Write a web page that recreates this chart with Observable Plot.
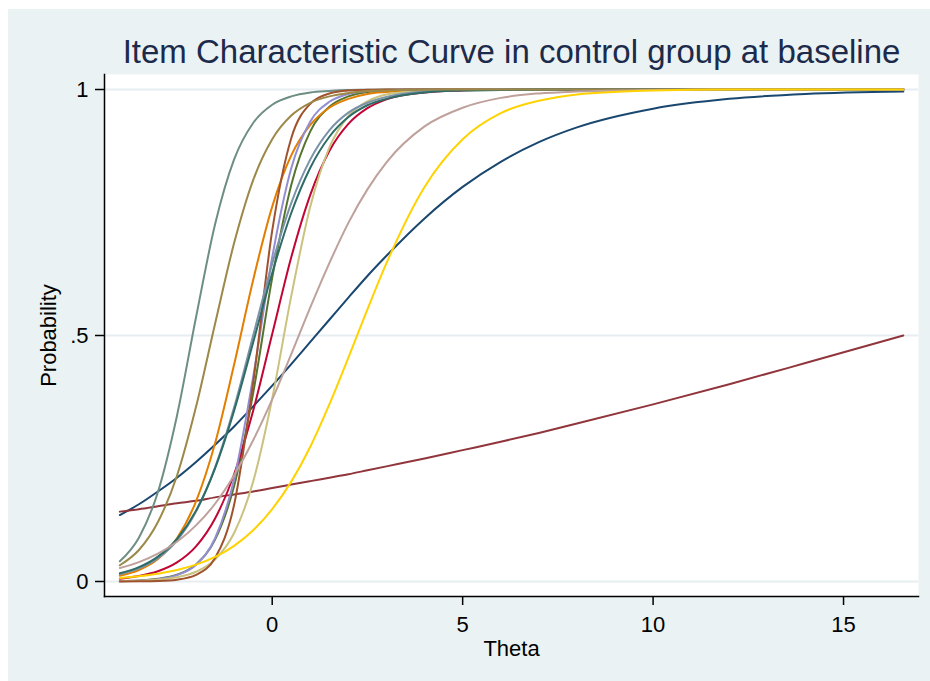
<!DOCTYPE html>
<html><head><meta charset="utf-8">
<script src="https://cdn.jsdelivr.net/npm/d3@7"></script>
<script src="https://cdn.jsdelivr.net/npm/@observablehq/plot@0.6"></script>
<style>
html,body{margin:0;padding:0;background:#fff;}
#wrap{position:relative;width:930px;height:681px;overflow:hidden;background:#fff;}
#bg{position:absolute;left:8px;top:9px;width:922px;height:672px;background:#eaf2f3;}
#chart{position:absolute;left:0;top:0;}
</style></head><body>
<div id="wrap"><div id="bg"></div><div id="chart"></div></div>
<script>
// ---- data ----
const titleText = "Item Characteristic Curve in control group at baseline";
const xLabel = "Theta";
const yLabel = "Probability";
const xTicks = [0, 5, 10, 15];
const xTickLabels = ["0", "5", "10", "15"];
const yTicks = [0, 0.5, 1];
const yTickLabels = ["0", ".5", "1"];

const theta = [-4,-3.5,-3,-2.5,-2,-1.5,-1,-0.5,0,0.5,1,1.5,2,2.5,3,4,5,6,7,8,10,12,14,16.57];

const item1  = [.135,.157,.183,.211,.243,.278,.315,.356,.398,.442,.487,.532,.577,.621,.662,.738,.802,.853,.893,.923,.961,.981,.991,.996];
const item2  = [.142,.147,.153,.159,.164,.171,.177,.183,.190,.197,.204,.211,.218,.226,.234,.250,.267,.284,.302,.321,.360,.401,.444,.500];
const item3  = [.0008,.0021,.0054,.0137,.0347,.0851,.194,.383,.617,.806,.915,.965,.986,.995,.998,1,1,1,1,1,1,1,1,1];
const item4  = [.0117,.0233,.0457,.088,.163,.281,.441,.613,.762,.866,.928,.963,.981,.991,.995,.999,1,1,1,1,1,1,1,1];
const item5  = [.041,.089,.182,.337,.537,.726,.858,.932,.969,.986,.994,.997,.999,.9995,1,1,1,1,1,1,1,1,1,1];
const item6  = [.0058,.011,.0207,.0387,.0713,.128,.218,.347,.503,.659,.786,.875,.930,.962,.980,.994,.998,1,1,1,1,1,1,1];
const item7  = [.0007,.0018,.0048,.0129,.0342,.0879,.208,.416,.659,.840,.935,.975,.991,.997,.999,1,1,1,1,1,1,1,1,1];
const item8  = [.0007,.0016,.0037,.0086,.0198,.0448,.0985,.203,.372,.580,.762,.882,.946,.976,.990,.998,1,1,1,1,1,1,1,1];
const item9  = [.0001,.0003,.001,.0037,.0135,.0479,.156,.404,.713,.901,.971,.992,.998,.9994,1,1,1,1,1,1,1,1,1,1];
const item10 = [.0148,.0266,.0474,.0832,.142,.232,.354,.5,.646,.769,.858,.917,.953,.973,.985,.996,.999,1,1,1,1,1,1,1];
const item11 = [.0166,.0291,.0506,.0864,.144,.230,.347,.486,.627,.749,.841,.904,.944,.968,.981,.994,.998,.999,1,1,1,1,1,1];
const item12 = [.033,.064,.121,.215,.355,.524,.688,.816,.899,.947,.973,.986,.993,.997,.998,1,1,1,1,1,1,1,1,1];
const item13 = [.0273,.0395,.0567,.0808,.114,.158,.216,.287,.370,.462,.557,.647,.729,.797,.852,.925,.963,.983,.992,.996,.999,1,1,1];
const item14 = [.0072,.0107,.0158,.0233,.0342,.0499,.0723,.104,.147,.203,.274,.360,.455,.553,.647,.802,.899,.952,.977,.990,.998,1,1,1];

const items = ["item1","item2","item3","item4","item5","item6","item7","item8","item9","item10","item11","item12","item13","item14"];
const series = [item1,item2,item3,item4,item5,item6,item7,item8,item9,item10,item11,item12,item13,item14];
const colors = ["#1a476f","#90353b","#55752f","#e37e00","#6e8e84","#c10534","#938dd2","#cac27e","#a0522d","#7b92a8","#2d6d66","#9c8847","#bfa19c","#ffd200"];

// ---- build long table ----
const rows = [];
series.forEach((vals, k) => vals.forEach((p, i) => rows.push({item: items[k], theta: theta[i], p})));

const font = "'Liberation Sans', Arial, Helvetica, sans-serif";

const lineMarks = items.map(name =>
  Plot.line(rows.filter(r => r.item === name), {
    x: "theta", y: "p", stroke: "item", curve: "monotone-x",
    strokeWidth: 2, strokeLinejoin: "round", strokeLinecap: "round"
  })
);

const plot = Plot.plot({
  width: 930, height: 681,
  marginLeft: 104, marginRight: 12, marginTop: 74, marginBottom: 85,
  style: {background: "transparent", fontFamily: font, color: "#000", overflow: "visible"},
  x: {domain: [-4.403, 16.968], label: null},
  y: {domain: [-0.0305, 1.0305], label: null},
  color: {domain: items, range: colors},
  marks: [
    Plot.frame({fill: "white", stroke: null}),
    Plot.ruleY(yTicks, {stroke: "#e6eef1", strokeWidth: 2}),
    ...lineMarks,
    Plot.frame({anchor: "left", stroke: "#000", strokeWidth: 1.5}),
    Plot.frame({anchor: "bottom", stroke: "#000", strokeWidth: 1.5}),
    Plot.axisX({ticks: xTicks, tickFormat: (d) => xTickLabels[xTicks.indexOf(d)], tickSize: 9, tickPadding: 11,
      fontSize: 22, strokeWidth: 1.5, label: null}),
    Plot.axisY({ticks: yTicks, tickFormat: (d) => yTickLabels[yTicks.indexOf(d)], tickSize: 9, tickPadding: 7,
      fontSize: 22, strokeWidth: 1.5, label: null}),
    Plot.text([titleText], {frameAnchor: "top", dy: -12, lineAnchor: "bottom", fontSize: 33, fill: "#1c2a4b"}),
    Plot.text([xLabel], {frameAnchor: "bottom", dy: 59, lineAnchor: "bottom", fontSize: 22, fill: "#000"}),
    Plot.text([yLabel], {frameAnchor: "left", dx: -49, rotate: -90, textAnchor: "middle", lineAnchor: "bottom", fontSize: 22, fill: "#000"})
  ]
});
document.getElementById("chart").appendChild(plot);
</script>
</body></html>
